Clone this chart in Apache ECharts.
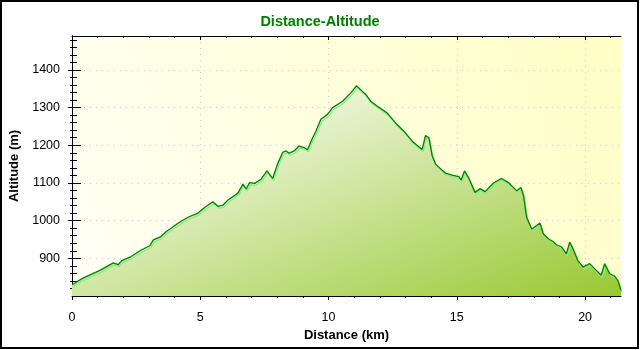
<!DOCTYPE html>
<html>
<head>
<meta charset="utf-8">
<script src="https://cdn.jsdelivr.net/npm/echarts@6/dist/echarts.min.js"></script>
<style>
  html, body { margin: 0; padding: 0; background: #fff; }
  #chart { position: absolute; left: 0; top: 0; width: 640px; height: 350px; }
  #frame { position: absolute; left: 0; top: 0; width: 639px; height: 349px;
           box-sizing: border-box; border: 2px solid #000; pointer-events: none; }
</style>
</head>
<body>
<div id="chart"></div>
<div id="frame"></div>
<script>
// Track profile: distance along the route (km) and altitude (m)
const distanceKm = [
  0.00, 0.39, 0.70, 1.09, 1.61, 1.80, 1.94, 2.26, 2.65, 3.04, 3.17, 3.43, 3.69, 3.82,
  4.13, 4.52, 4.91, 5.17, 5.49, 5.69, 5.88, 6.08, 6.47, 6.66, 6.79, 6.92, 7.12, 7.37,
  7.60, 7.82, 8.01, 8.21, 8.34, 8.47, 8.66, 8.85, 9.05, 9.18, 9.38, 9.51, 9.70, 9.96,
  10.16, 10.55, 10.87, 11.09, 11.32, 11.45, 11.64, 11.89, 12.28, 12.67, 12.93, 13.26,
  13.65, 13.78, 13.91, 14.04, 14.17, 14.56, 14.82, 15.08, 15.17, 15.30, 15.45, 15.71,
  15.91, 16.10, 16.43, 16.75, 17.01, 17.34, 17.50, 17.60, 17.72, 17.92, 18.11, 18.24,
  18.37, 18.57, 18.76, 18.88, 19.09, 19.27, 19.40, 19.53, 19.72, 19.92, 20.18, 20.44,
  20.63, 20.76, 20.96, 21.15, 21.28, 21.40
];
const altitudeM = [
  830, 846, 856, 868, 888, 883, 894, 903, 920, 934, 949, 956, 972, 978,
  993, 1009, 1020, 1035, 1050, 1038, 1041, 1055, 1073, 1097, 1084, 1101, 1099, 1110,
  1132, 1112, 1150, 1181, 1185, 1179, 1185, 1198, 1194, 1188, 1220, 1238, 1269, 1282,
  1300, 1317, 1339, 1358, 1343, 1335, 1317, 1304, 1286, 1255, 1238, 1211,
  1189, 1226, 1220, 1172, 1150, 1126, 1121, 1117, 1108, 1132, 1115, 1075,
  1085, 1077, 1100, 1112, 1101, 1079, 1088, 1066, 1009, 978, 987, 994,
  965, 952, 944, 936, 930, 912, 943, 925, 894, 877, 886, 868,
  855, 886, 859, 853, 841, 815
];

// Tick positions
const xMajorTicks = [0, 5, 10, 15, 20];
const xMinorTicks = [1, 2, 3, 4, 6, 7, 8, 9, 11, 12, 13, 14, 16, 17, 18, 19, 21];
const yMajorTicks = [900, 1000, 1100, 1200, 1300, 1400];
const yMinorTicks = [];
for (let v = 820; v <= 1480; v += 20) if (v % 100 !== 0) yMinorTicks.push(v);

const X_MIN = 0, X_MAX = 21.4;
const Y_MIN = 800, Y_MAX = 1490;

const font = 'Arial, "Liberation Sans", sans-serif';

// Axis carrying only ticks; offset + inside lets ticks straddle the frame line
function tickAxis(kind, position, values, length, offset) {
  const ax = {
    type: 'value', position: position, offset: offset,
    axisLine: { show: false },
    axisLabel: { show: false },
    splitLine: { show: false },
    axisTick: { show: true, inside: true, length: length, customValues: values,
                lineStyle: { color: '#000', width: 1 } }
  };
  if (kind === 'x') { ax.min = X_MIN; ax.max = X_MAX; }
  else { ax.min = Y_MIN; ax.max = Y_MAX; }
  return ax;
}

const chart = echarts.init(document.getElementById('chart'), null, { renderer: 'canvas' });

const option = {
  animation: false,
  backgroundColor: '#ffffff',
  title: {
    text: 'Distance-Altitude',
    left: 'center', top: 9,
    textStyle: { color: '#008000', fontFamily: font, fontSize: 14.5, fontWeight: 'bold' }
  },
  grid: {
    left: 72, top: 36, right: 19, bottom: 54,
    show: true, borderWidth: 0,
    backgroundColor: {
      type: 'linear', x: 0, y: 1, x2: 1, y2: 0,
      colorStops: [
        { offset: 0, color: '#fffff6' },
        { offset: 1, color: '#ffffc6' }
      ]
    }
  },
  xAxis: [
    {
      type: 'value', position: 'bottom', min: X_MIN, max: X_MAX,
      axisLine: { show: true, lineStyle: { color: '#000', width: 1 } },
      axisTick: { show: false, customValues: xMajorTicks },
      axisLabel: { customValues: xMajorTicks, margin: 15, color: '#000',
                   fontFamily: font, fontSize: 12.5, formatter: v => String(v) },
      splitLine: { show: true, lineStyle: { color: '#c8c8c8', type: [1, 5], width: 1 } },
      name: 'Distance (km)', nameLocation: 'middle', nameGap: 31,
      nameTextStyle: { color: '#000', fontFamily: font, fontSize: 13, fontWeight: 'bold' }
    },
    tickAxis('x', 'bottom', xMajorTicks, 9, 4),
    tickAxis('x', 'bottom', xMinorTicks, 5, 2),
    Object.assign(tickAxis('x', 'top', xMajorTicks, 4, 0),
                  { axisLine: { show: true, lineStyle: { color: '#000', width: 1 } } }),
    tickAxis('x', 'top', xMinorTicks, 2, 0)
  ],
  yAxis: [
    {
      type: 'value', position: 'left', min: Y_MIN, max: Y_MAX,
      axisLine: { show: true, lineStyle: { color: '#000', width: 1 } },
      axisTick: { show: false, customValues: yMajorTicks },
      axisLabel: { customValues: yMajorTicks, margin: 12, color: '#000',
                   fontFamily: font, fontSize: 12.5, formatter: v => String(v) },
      splitLine: { show: true, lineStyle: { color: '#c8c8c8', type: [1, 5], width: 1 } },
      name: 'Altitude (m)', nameLocation: 'middle', nameGap: 45,
      nameTextStyle: { color: '#000', fontFamily: font, fontSize: 13, fontWeight: 'bold' }
    },
    tickAxis('y', 'left', yMajorTicks, 9, 4),
    tickAxis('y', 'left', yMinorTicks, 5, 2),
    Object.assign(tickAxis('y', 'right', yMajorTicks, 4, 0),
                  { axisLine: { show: true, lineStyle: { color: '#000', width: 1 } } }),
    tickAxis('y', 'right', yMinorTicks, 2, 0)
  ],
  series: [{
    type: 'line',
    xAxisIndex: 0, yAxisIndex: 0,
    data: distanceKm.map((d, i) => [d, altitudeM[i]]),
    symbol: 'none',
    lineStyle: {
      color: '#008000', width: 1.3,
      shadowColor: '#88ee88', shadowBlur: 0, shadowOffsetX: 1, shadowOffsetY: 2
    },
    areaStyle: {
      origin: 'start',
      opacity: 1,
      // pale near the summit, deepening towards the lower right
      color: {
        type: 'linear', x: 0.156, y: 0, x2: 0.399, y2: 1.617,
        colorStops: [
          { offset: 0, color: '#ffffff' },
          { offset: 1, color: '#98c832' }
        ]
      }
    },
    z: 3
  }]
};

chart.setOption(option);
</script>
</body>
</html>
